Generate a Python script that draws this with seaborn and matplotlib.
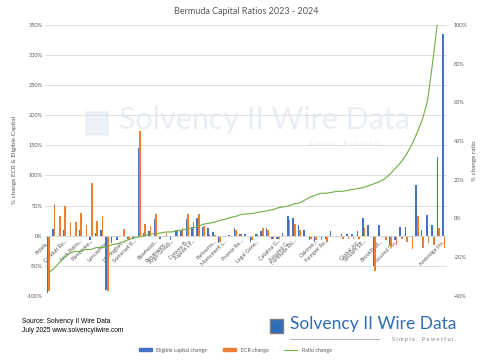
import numpy as np
import pandas as pd
import seaborn as sns
import matplotlib.pyplot as plt
from matplotlib.patches import Patch, Rectangle
from matplotlib.lines import Line2D
from matplotlib.ticker import FuncFormatter

# % change in eligible capital, one entry per company (sorted by ratio change)
eligible_change = [-95, 11, -2, 9, -2, -2, 10, 0, -8, 5, 10, -90, -12, -8, -1,
                   -5, -6, 145, 5, 8, 27, -5, -2, -8, 10, 8, 28, 15, 30, 14,
                   13, 6, -12, -3, 1, 12, 2, 2, -10, 3, 7, 12, -6, -5, 4,
                   32, 30, 18, 10, -8, -10, -3, -5, 8, -3, 3, 3, 3, 7, 29,
                   18, -50, 17, -3, -15, -8, 15, 14, -3, 84, 10, 35, 18, 131, 335]
# % change in ECR
ecr_change = [-92, 53, 32, 49, 23, 23, 38, 18, 88, 25, 32, -92, -2, -1, 11,
              -8, -2, 173, 19, 16, 36, -2, 5, 0, 10, 12, 36, 22, 36, 16,
              3, 1, -10, -3, -1, 10, 3, -1, -8, 2, 12, 10, -5, -6, -2,
              26, 20, 10, -2, -6, -8, -8, -10, -3, -2, -5, -5, -5, -5, 12,
              0, -58, -3, -8, -18, -15, -5, -10, -22, 33, -20, -12, -15, 12, -20]
# % change in capital ratio (secondary axis)
ratio_change = [-28, -26, -23, -20, -18, -17, -17, -16, -16, -15, -15, -14.5, -13.5, -13, -12,
                -11, -10, -9.5, -9, -8, -8, -7.5, -7, -7, -6.5, -6, -5.5, -5, -4, -3,
                -2.5, -2, -1, -0.5, 0.5, 1, 2, 2.3, 2.5, 3, 3.5, 4, 4.5, 5.5, 6,
                6.5, 7.5, 8, 9.5, 11, 12, 13, 13, 13.5, 14, 14, 14.5, 15, 15.5, 16,
                17, 18, 19, 20.5, 23, 26, 29, 33, 38, 44, 51, 61, 82, 105, 140]

# only some category labels are shown on the axis
shown_labels = {0: "Fidelis...", 3: "Conduit Re...", 6: "Arch Reins...", 8: "Pembroke...",
                11: "Lancashire...", 14: "Harrington...", 16: "Somerset R...",
                20: "Bowhead...", 22: "Renaissanc...", 23: "Argo Group...",
                26: "Convex B...", 27: "Aspida Lif...", 31: "Partnerre...",
                33: "Monument L...", 36: "Premia Re...", 39: "Legal Gene...",
                43: "Catalina G...", 45: "Assured G...", 46: "Fortitude Re...",
                50: "Oaktree...", 52: "Kemper Re...", 58: "Global Atl...",
                59: "SiriusPt SE...", 62: "Brookfield...", 65: "Assured Gu...",
                74: "Ambridge Ins..."}

BLUE = "#4472C4"
ORANGE = "#ED7D31"
GREEN = "#70AD47"
GREY = "#595959"

n = len(eligible_change)
tick_labels = [shown_labels.get(i, "") for i in range(n)]
df = pd.DataFrame({
    "company": list(range(n)) * 2,
    "change": eligible_change + ecr_change,
    "series": ["Eligible capital change"] * n + ["ECR change"] * n,
})

sns.set_theme(style="white")
plt.rcParams["font.family"] = ["Lato", "DejaVu Sans"]

fig = plt.figure(figsize=(4.8, 3.6), dpi=100)
ax = fig.add_axes([0.094, 0.178, 0.837, 0.753])

sns.barplot(data=df, x="company", y="change", hue="series",
            palette=[BLUE, ORANGE], width=0.6, ax=ax, legend=False,
            saturation=1, edgecolor="none", linewidth=0, zorder=2)
ax.set_ylim(-100, 350)
ax.set_yticks(np.arange(-100, 351, 50))
ax.yaxis.set_major_formatter(FuncFormatter(lambda v, p: f"{v:.0f}%"))
ax.grid(axis="y", color="#d9d9d9", lw=0.6, zorder=0)
for s in ["top", "right", "left"]:
    ax.spines[s].set_visible(False)
ax.spines["bottom"].set_position(("data", 0))
ax.spines["bottom"].set_color("#d9d9d9")
ax.spines["bottom"].set_linewidth(0.6)
ax.set_xticks(range(n))
ax.set_xticklabels(tick_labels, rotation=45, ha="right", rotation_mode="anchor",
                   fontsize=4, color=GREY)
ax.tick_params(axis="both", length=0, pad=2)
ax.tick_params(axis="y", labelsize=4, labelcolor=GREY)
ax.set_xlabel("")
ax.set_ylabel("% change ECR & Eligible Capital", fontsize=4.5, color=GREY, labelpad=7)
ax.set_xlim(-0.6, n - 0.4)

ax2 = ax.twinx()
sns.lineplot(x=np.arange(n), y=ratio_change, color=GREEN, lw=0.8, ax=ax2)
ax2.set_ylim(-40, 100)
ax2.set_yticks(np.arange(-40, 101, 20))
ax2.yaxis.set_major_formatter(FuncFormatter(lambda v, p: f"{v:.0f}%"))
for s in ax2.spines.values():
    s.set_visible(False)
ax2.tick_params(axis="y", length=0, labelsize=4, labelcolor=GREY, pad=5)
ax2.set_ylabel("% change ratio", fontsize=4.5, color=GREY, labelpad=3)

ax.set_title("Bermuda Capital Ratios 2023 - 2024", fontsize=6.5, color=GREY, pad=8)

# faint watermark inside the plot
fig.text(0.55, 0.667, "Solvency II Wire Data", fontsize=22, color="#dae3ee",
         alpha=0.6, ha="center", va="center", zorder=0)
fig.text(0.72, 0.6, "S i m p l e .   P o w e r f u l .", fontsize=4.5,
         color="#d3deeb", alpha=0.7, ha="center", va="center")
fig.patches.append(Rectangle((0.18, 0.625), 0.045, 0.065, transform=fig.transFigure,
                             facecolor="#dbe5f1", edgecolor="#e6eaef", lw=1.5, alpha=0.5))

# footer
fig.text(0.046, 0.095, "Source: Solvency II Wire Data\nJuly 2025 www.solvencyiiwire.com",
         fontsize=4.8, color="black", family="Liberation Sans", va="center",
         linespacing=1.3)
fig.patches.append(Rectangle((0.562, 0.075), 0.027, 0.038, transform=fig.transFigure,
                             facecolor="#2f6db5", edgecolor="#7f7f7f", lw=1.0))
fig.text(0.605, 0.1, "Solvency II Wire Data", fontsize=12.5, color="#2f6db5",
         va="center", ha="left")
fig.lines.append(Line2D([0.605, 0.79], [0.058, 0.058], transform=fig.transFigure,
                        color="#a6a6a6", lw=0.6))
fig.text(0.95, 0.058, "S i m p l e .   P o w e r f u l .", fontsize=4,
         color="#7f7f7f", ha="right", va="center")

handles = [Patch(color=BLUE, label="Eligible capital change"),
           Patch(color=ORANGE, label="ECR change"),
           Line2D([0], [0], color=GREEN, lw=0.8, label="Ratio change")]
fig.legend(handles=handles, loc="center", bbox_to_anchor=(0.49, 0.027), ncol=3,
           frameon=False, fontsize=3.8, handlelength=2.5, handleheight=0.5,
           columnspacing=3, labelcolor=GREY)

fig.savefig("out.png", dpi=100)
